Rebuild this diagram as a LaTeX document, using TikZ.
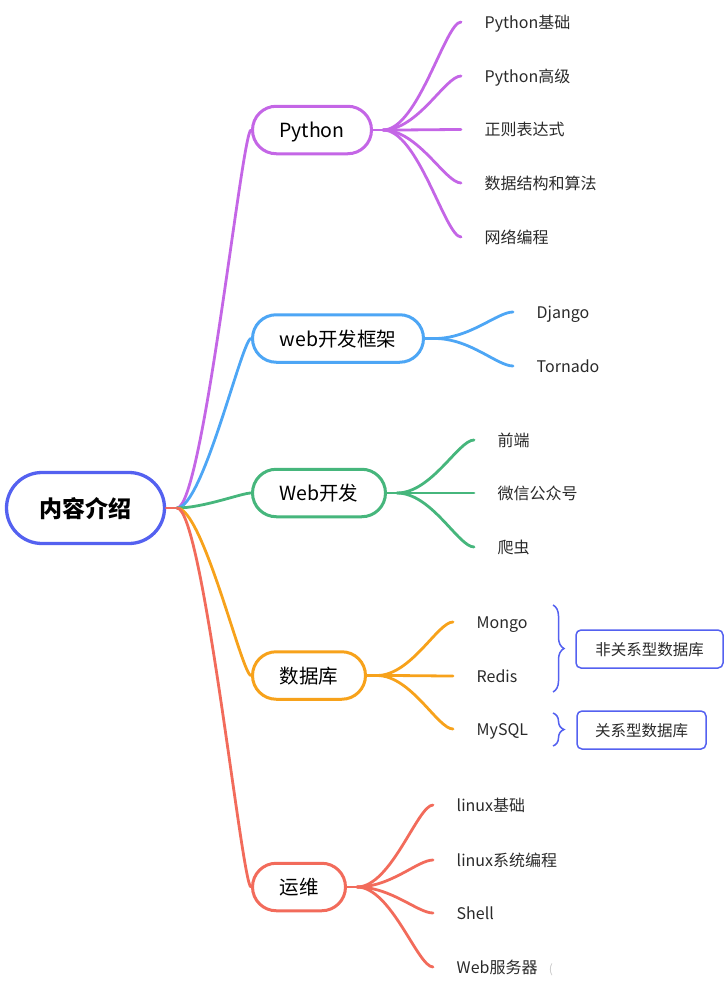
\documentclass[tikz,border=0pt]{standalone}
\usepackage{fontspec}
\setmainfont{Noto Sans CJK SC}
\usetikzlibrary{calc,shapes.misc,decorations.pathreplacing}
\definecolor{cRoot}{HTML}{5461F0}
\definecolor{cPy}{HTML}{C466E6}
\definecolor{cWf}{HTML}{4DA6F5}
\definecolor{cWeb}{HTML}{46B67C}
\definecolor{cDb}{HTML}{F7A21B}
\definecolor{cOp}{HTML}{F26B5B}
\definecolor{cText}{HTML}{2A2A2A}
\begin{document}
\begin{tikzpicture}[x=1pt,y=-1pt,
  root/.style={rounded rectangle, draw=cRoot, line width=3.3pt, fill=white, inner sep=0pt,
    minimum width=158pt, minimum height=71pt, font=\fontsize{23}{27}\selectfont\bfseries, text=black,
    text height=19pt, text depth=1pt},
  topic/.style={rounded rectangle, draw, line width=3pt, fill=white, inner sep=0pt,
    minimum height=47.5pt, font=\fontsize{19.5}{23}\selectfont, text=black,
    text height=17pt, text depth=1.8pt},
  leaf/.style={anchor=west, inner xsep=23.5pt, inner ysep=0pt, font=\fontsize{16}{19}\selectfont, text=cText,
    text height=14pt, text depth=1.8pt},
  br/.style={line width=2.8pt, line cap=round},
  rootcurve/.style={to path={let \p1=(\tikztostart), \p2=(\tikztotarget) in
     .. controls (\x1+0.35*\x2-0.35*\x1,\y1) and (\x2-0.12*\x2+0.12*\x1,\y2) .. (\tikztotarget)}},
  leafcurve/.style={to path={let \p1=(\tikztostart), \p2=(\tikztotarget) in
     .. controls (\x1+0.45*\x2-0.45*\x1,\y1) and (\x2-0.2*\x2+0.2*\x1,\y2) .. (\tikztotarget)}},
  bracedeco/.style={draw=cRoot, line width=1.5pt, decorate, decoration={brace, amplitude=11pt}},
  dbbox/.style={draw=cRoot, line width=1.5pt, rounded corners=5pt, minimum height=38pt, inner sep=0pt,
    font=\fontsize{15.5}{18}\selectfont, text=cText, text height=13.5pt, text depth=1.5pt}
]
\useasboundingbox (0,0) rectangle (726,990);

% nodes
\node[root] (root) at (85.5,508) {内容介绍};
\coordinate (rf) at (177,508);
\node[topic, draw=cPy, minimum width=119pt] (py) at (312,130) {Python};
\node[topic, draw=cWf, minimum width=171pt] (wf) at (338,338.5) {web开发框架};
\node[topic, draw=cWeb, minimum width=133pt] (web) at (319,493) {Web开发};
\node[topic, draw=cDb, minimum width=113pt] (db) at (309,675.5) {数据库};
\node[topic, draw=cOp, minimum width=93pt] (op) at (299,887) {运维};

% root branches
\draw[br, cOp] (root.east) -- (rf);
\draw[br, cPy] (rf) to[rootcurve] (py.west);
\draw[br, cWf] (rf) to[rootcurve] (wf.west);
\draw[br, cWeb] (rf) to[rootcurve] (web.west);
\draw[br, cDb] (rf) to[rootcurve] (db.west);
\draw[br, cOp] (rf) to[rootcurve] (op.west);

% Python
\coordinate (pyf) at ($(py.east)+(10,0)$);
\draw[br, cPy] (py.east) -- (pyf);
\node[leaf] (py1) at (461,22) {Python基础};
\node[leaf] (py2) at (461,76) {Python高级};
\node[leaf] (py3) at (461,129.5) {正则表达式};
\node[leaf] (py4) at (461,183) {数据结构和算法};
\node[leaf] (py5) at (461,237) {网络编程};
\foreach \k in {py1,py2,py3,py4,py5} \draw[br, cPy] (pyf) to[leafcurve] (\k.west);

% web framework
\coordinate (wff) at ($(wf.east)+(10,0)$);
\draw[br, cWf] (wf.east) -- (wff);
\node[leaf] (wf1) at (513,312) {Django};
\node[leaf] (wf2) at (513,366) {Tornado};
\foreach \k in {wf1,wf2} \draw[br, cWf] (wff) to[leafcurve] (\k.west);

% Web dev
\coordinate (webf) at ($(web.east)+(10,0)$);
\draw[br, cWeb] (web.east) -- (webf);
\node[leaf] (web1) at (474,440) {前端};
\node[leaf] (web2) at (474,493) {微信公众号};
\node[leaf] (web3) at (474,547) {爬虫};
\foreach \k in {web1,web2,web3} \draw[br, cWeb] (webf) to[leafcurve] (\k.west);

% Database
\coordinate (dbf) at ($(db.east)+(10,0)$);
\draw[br, cDb] (db.east) -- (dbf);
\node[leaf] (db1) at (453,622) {Mongo};
\node[leaf] (db2) at (453,676) {Redis};
\node[leaf] (db3) at (453,729) {MySQL};
\foreach \k in {db1,db2,db3} \draw[br, cDb] (dbf) to[leafcurve] (\k.west);

% Ops
\coordinate (opf) at ($(op.east)+(10,0)$);
\draw[br, cOp] (op.east) -- (opf);
\node[leaf] (op1) at (433,805) {linux基础};
\node[leaf] (op2) at (433,860) {linux系统编程};
\node[leaf] (op3) at (433,913) {Shell};
\node[leaf] (op4) at (433,967) {Web服务器};
\foreach \k in {op1,op2,op3,op4} \draw[br, cOp] (opf) to[leafcurve] (\k.west);

% braces and boxes
\coordinate (b1t) at (553,605);
\coordinate (b1b) at (553,692);
\coordinate (b2t) at (553,713);
\coordinate (b2b) at (553,746);
\draw[bracedeco] (b1t) -- (b1b);
\draw[bracedeco] (b2t) -- (b2b);
\node[dbbox, minimum width=147pt] (nosql) at (649.5,649) {非关系型数据库};
\node[dbbox, minimum width=129pt] (sql) at (641.5,730) {关系型数据库};

% small artifact
\node[text=gray!45, font=\fontsize{12}{12}\selectfont, inner sep=0pt] (cur) at (551,970) {(};
\end{tikzpicture}
\end{document}
